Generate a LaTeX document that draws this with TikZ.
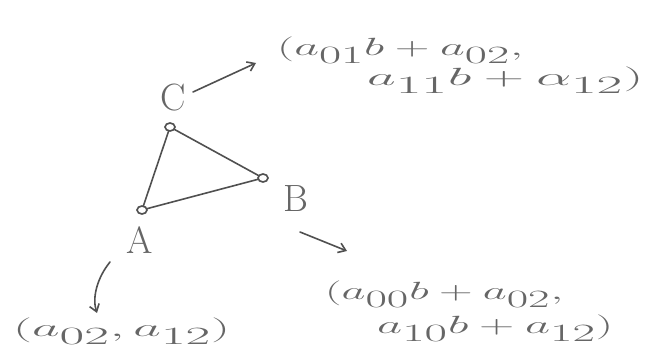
\documentclass[tikz,border=0pt]{standalone}
\usetikzlibrary{arrows.meta,shapes.geometric}
\definecolor{ink}{HTML}{505050}
\definecolor{txt}{HTML}{666666}
\newcommand{\fitw}[2]{\resizebox{#1}{\height}{$#2$}}
\begin{document}
\begin{tikzpicture}[x=1pt,y=-1pt,
  ink/.style={draw=ink, line width=1.6pt, line cap=round},
  vtx/.style={ink, ellipse, inner sep=0pt, minimum width=10pt, minimum height=8pt, fill=white},
  lbl/.style={text=txt, font=\fontsize{38}{42}\selectfont, inner sep=0pt},
  val/.style={text=txt, font=\fontsize{34}{38}\selectfont, inner sep=0pt, anchor=west},
  arr/.style={ink, -{Straight Barb[length=7pt,width=10pt]}}]
\useasboundingbox (0,0) rectangle (657,358);
% vertices
\node[vtx] (vC) at (170,127) {};
\node[vtx] (vB) at (263,178) {};
\node[vtx] (vA) at (142,210) {};
\draw[ink] (vA) -- (vC) -- (vB) -- (vA);
% labels
\node[lbl] (lC) at (173,98) {C};
\node[lbl] (lB) at (296,199) {B};
\node[lbl] (lA) at (140,240) {A};
% values
\node[val] (tC1) at (277,50) {\fitw{246pt}{\bigl(a_{01}b + a_{02},}};
\node[val] (tC2) at (367,80) {\fitw{276pt}{a_{11}b + \alpha_{12}\bigr)}};
\node[val] (tB1) at (325,294) {\fitw{238pt}{\bigl(a_{00}b + a_{02},}};
\node[val] (tB2) at (377,328) {\fitw{236pt}{a_{10}b + a_{12}\bigr)}};
\node[val] (tA) at (13,331) {\fitw{217pt}{\bigl(a_{02}, a_{12}\bigr)}};
% arrows
\coordinate (cs) at (193,92);
\coordinate (ce) at (256,63);
\draw[arr] (cs) -- (ce);
\coordinate (bs) at (300,232);
\coordinate (be) at (347,251);
\draw[arr] (bs) -- (be);
\coordinate (as) at (110,262);
\coordinate (ae) at (97,313);
\draw[arr] (as) .. controls (97,278) and (92,298) .. (ae);
\end{tikzpicture}
\end{document}
